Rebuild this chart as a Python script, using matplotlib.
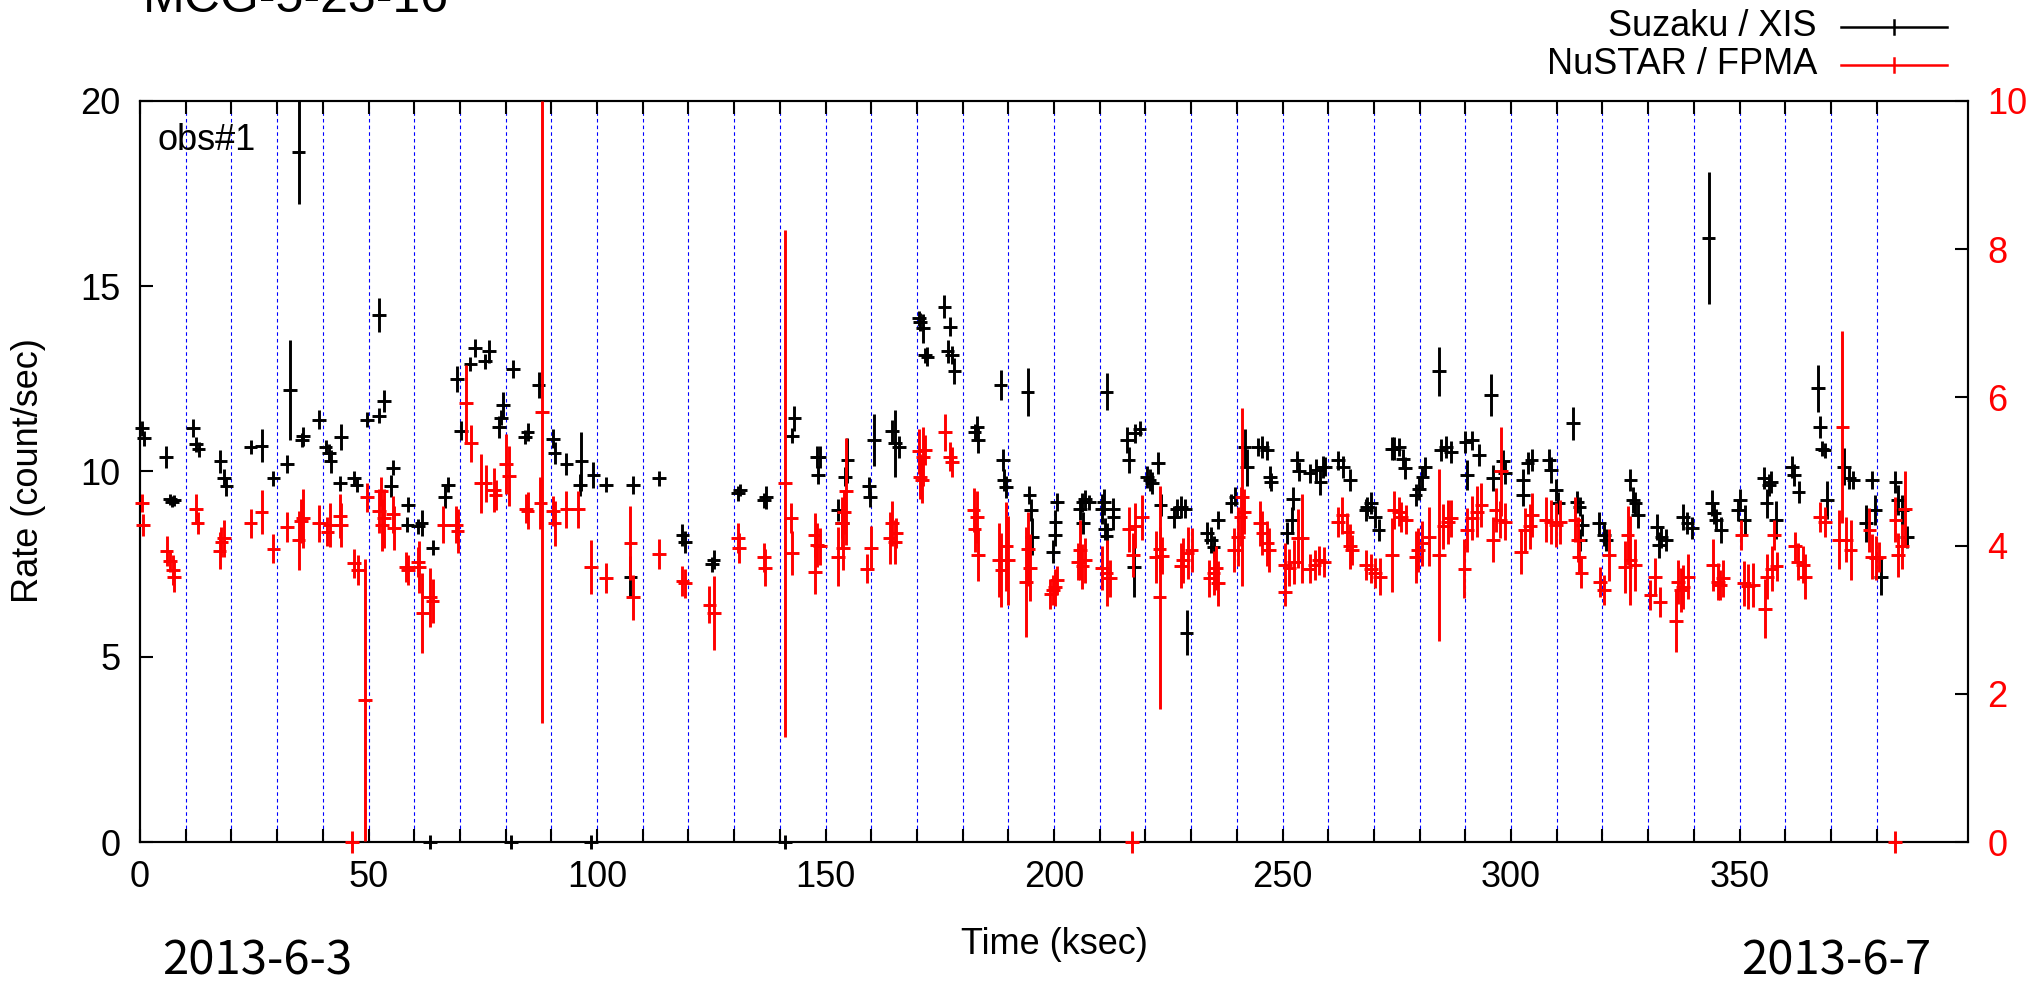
import matplotlib
matplotlib.use("Agg")
import matplotlib.pyplot as plt
from matplotlib.lines import Line2D

plt.rcParams['font.family'] = ['Liberation Sans', 'DejaVu Sans']

# Suzaku / XIS light curve: time (ksec), rate (count/sec), 1-sigma error
xis_t = [0.5, 0.9, 5.7, 6.6, 7.0, 7.4, 11.6, 12.3, 12.8, 17.6, 18.4, 18.9, 24.2, 26.6, 29.2,
         32.1, 32.8, 34.7, 35.4, 35.7, 39.1, 40.6, 41.3, 41.7, 43.7, 44.0, 46.9, 47.4, 49.6,
         52.3, 52.3, 53.4, 54.9, 55.4, 58.5, 58.7, 60.9, 61.6, 63.5, 64.0, 66.7, 67.4, 69.4,
         70.2, 72.3, 73.3, 75.5, 76.3, 78.5, 79.0, 79.4, 81.2, 81.6, 84.3, 84.8, 87.2, 90.4,
         90.7, 93.3, 96.3, 96.6, 98.7, 99.2, 102.0, 107.3, 107.9, 113.6, 118.7, 119.2, 125.1,
         125.5, 130.9, 131.3, 136.6, 136.9, 141.1, 142.6, 143.2, 148.1, 148.7, 148.4, 152.8,
         153.6, 154.3, 154.8, 159.5, 159.7, 160.6, 164.5, 165.2, 166.0, 170.4, 170.7, 171.4,
         171.8, 172.3, 176.0, 177.2, 176.7, 177.7, 178.2, 182.6, 183.1, 183.3, 188.3, 188.8,
         189.0, 189.5, 194.2, 194.6, 195.0, 195.2, 199.7, 200.2, 200.3, 200.6, 205.7, 206.2,
         206.7, 207.7, 206.3, 210.5, 211.0, 211.2, 211.5, 211.5, 212.9, 213.0, 216.0, 216.3,
         217.5, 217.7, 218.7, 220.4, 220.9, 221.4, 222.8, 223.3, 226.3, 226.8, 227.8, 228.7,
         229.0, 233.4, 234.4, 234.9, 235.8, 238.8, 239.7, 241.7, 242.2, 244.7, 245.6, 246.6,
         247.3, 247.5, 251.0, 252.0, 252.3, 253.1, 253.6, 255.9, 257.4, 258.3, 258.9, 259.3,
         262.2, 263.2, 264.7, 268.2, 268.5, 269.3, 270.3, 271.0, 274.0, 274.4, 275.4, 276.4,
         276.8, 279.1, 279.8, 280.6, 281.1, 284.2, 284.7, 285.8, 286.8, 290.0, 290.4, 291.4,
         293.0, 295.6, 296.1, 298.2, 298.7, 302.6, 302.6, 303.6, 304.5, 308.3, 308.8, 309.8,
         310.3, 313.5, 314.5, 315.0, 315.1, 315.6, 319.3, 320.3, 320.8, 326.1, 326.7, 327.2,
         327.7, 331.9, 332.4, 332.9, 333.9, 337.6, 338.6, 339.6, 343.2, 343.9, 344.4, 344.9,
         346.0, 349.6, 350.1, 351.1, 355.3, 355.9, 356.4, 356.9, 357.9, 361.4, 361.9, 362.9,
         367.1, 367.6, 368.1, 368.6, 369.1, 372.8, 373.9, 374.9, 377.7, 378.9, 379.7, 381.0,
         384.1, 384.6, 385.6, 386.6]
xis_rate = [11.17, 10.9, 10.4, 9.25, 9.18, 9.22, 11.17, 10.73, 10.6, 10.27, 9.82, 9.6, 10.66,
            10.7, 9.82, 10.2, 12.2, 18.63, 10.85, 10.95, 11.4, 10.66, 10.5, 10.27, 9.68, 10.93,
            9.82, 9.64, 11.4, 14.22, 11.5, 11.9, 9.6, 10.1, 8.56, 9.1, 8.52, 8.6, 0.0, 7.94,
            9.32, 9.64, 12.5, 11.1, 12.9, 13.33, 12.97, 13.24, 11.2, 11.45, 11.8, 0.0, 12.76,
            10.93, 11.07, 12.33, 10.89, 10.5, 10.2, 9.64, 10.27, 0.0, 9.9, 9.64, 7.16, 9.64,
            9.82, 8.28, 8.1, 7.5, 7.62, 9.41, 9.5, 9.22, 9.3, 0.0, 10.97, 11.43, 10.4, 10.4,
            9.9, 8.96, 8.6, 9.86, 10.3, 9.6, 9.3, 10.85, 11.1, 10.76, 10.66, 14.13, 14.04,
            13.86, 13.14, 13.1, 14.45, 13.91, 13.24, 13.15, 12.7, 11.07, 11.2, 10.84, 12.33,
            10.31, 9.77, 9.59, 12.15, 9.36, 8.96, 8.24, 7.84, 8.29, 8.65, 9.18, 8.99, 9.17,
            9.26, 9.17, 8.62, 8.99, 9.17, 8.45, 8.27, 12.15, 8.99, 8.77, 10.84, 10.3, 7.42,
            11.03, 11.16, 9.86, 9.77, 9.68, 10.22, 9.09, 8.78, 9.0, 9.05, 9.0, 5.65, 8.33,
            8.15, 7.97, 8.69, 9.14, 9.32, 10.66, 10.12, 10.66, 10.66, 10.57, 9.86, 9.72, 8.33,
            8.69, 9.27, 10.3, 10.0, 9.95, 10.04, 9.72, 10.13, 10.13, 10.3, 10.13, 9.77, 8.96,
            9.05, 9.14, 8.78, 8.42, 10.62, 10.62, 10.66, 10.35, 10.1, 9.36, 9.54, 9.86, 10.13,
            12.7, 10.57, 10.66, 10.53, 10.8, 9.9, 10.84, 10.44, 12.06, 9.82, 10.27, 9.95, 9.77,
            9.36, 10.22, 10.3, 10.3, 10.04, 9.5, 9.14, 11.3, 9.18, 9.05, 8.15, 8.56, 8.6, 8.29,
            8.15, 9.77, 9.23, 9.14, 8.83, 8.51, 8.02, 8.24, 8.15, 8.78, 8.6, 8.47, 16.3, 9.14,
            8.87, 8.69, 8.42, 8.96, 9.23, 8.69, 9.82, 9.14, 9.64, 9.72, 8.69, 10.13, 9.9, 9.45,
            12.24, 11.2, 10.62, 10.57, 9.23, 10.13, 9.82, 9.77, 8.6, 9.77, 8.96, 7.16, 9.72,
            9.23, 8.96, 8.24]
xis_err = [0.2, 0.2, 0.3, 0.15, 0.15, 0.15, 0.25, 0.2, 0.2, 0.3, 0.25, 0.25, 0.2, 0.45, 0.2,
           0.25, 1.35, 1.4, 0.2, 0.25, 0.25, 0.2, 0.25, 0.3, 0.2, 0.35, 0.2, 0.2, 0.2, 0.45,
           0.2, 0.3, 0.3, 0.2, 0.2, 0.2, 0.2, 0.35, 0.2, 0.2, 0.3, 0.2, 0.35, 0.25, 0.2, 0.25,
           0.2, 0.3, 0.3, 0.2, 0.35, 0.2, 0.25, 0.2, 0.25, 0.35, 0.25, 0.3, 0.3, 0.3, 0.8, 0.2,
           0.35, 0.2, 0.56, 0.25, 0.2, 0.3, 0.3, 0.2, 0.25, 0.2, 0.15, 0.2, 0.3, 0.2, 0.2, 0.35,
           0.3, 0.3, 0.25, 0.3, 0.4, 0.25, 0.6, 0.25, 0.25, 0.7, 0.3, 0.9, 0.3, 0.2, 0.25, 0.4,
           0.2, 0.25, 0.3, 0.25, 0.3, 0.25, 0.35, 0.2, 0.3, 0.35, 0.4, 0.3, 0.3, 0.3, 0.65,
           0.25, 0.3, 0.5, 0.3, 0.3, 0.3, 0.25, 0.3, 0.25, 0.25, 0.2, 0.3, 0.4, 0.35, 0.3, 0.35,
           0.5, 0.3, 0.35, 0.35, 0.35, 0.8, 0.25, 0.2, 0.3, 0.3, 0.3, 0.3, 0.3, 0.3, 0.25, 0.3,
           0.25, 0.6, 0.3, 0.35, 0.3, 0.25, 0.25, 0.25, 0.5, 0.5, 0.25, 0.3, 0.25, 0.3, 0.25,
           0.3, 0.35, 0.3, 0.25, 0.25, 0.25, 0.3, 0.35, 0.3, 0.25, 0.25, 0.3, 0.3, 0.3, 0.25,
           0.3, 0.3, 0.3, 0.3, 0.3, 0.25, 0.25, 0.3, 0.3, 0.3, 0.3, 0.25, 0.65, 0.3, 0.3, 0.3,
           0.3, 0.4, 0.25, 0.3, 0.57, 0.35, 0.3, 0.3, 0.3, 0.3, 0.3, 0.3, 0.3, 0.35, 0.3, 0.3,
           0.45, 0.3, 0.25, 0.3, 0.3, 0.3, 0.3, 0.3, 0.3, 0.35, 0.3, 0.35, 0.35, 0.35, 0.3, 0.3,
           0.35, 0.3, 0.3, 1.78, 0.35, 0.3, 0.3, 0.35, 0.3, 0.3, 0.4, 0.3, 0.4, 0.3, 0.3, 0.5,
           0.3, 0.3, 0.3, 0.63, 0.3, 0.2, 0.2, 0.5, 0.5, 0.3, 0.25, 0.5, 0.25, 0.4, 0.5, 0.3,
           0.4, 0.4, 0.3]

# NuSTAR / FPMA light curve (right axis)
fpma_t = [0.5, 0.7, 5.8, 6.5, 7.2, 7.5, 12.3, 12.6, 17.4, 17.8, 18.4, 24.2, 26.6, 29.2, 32.1,
          34.7, 35.2, 35.7, 39.1, 41.0, 41.5, 43.7, 44.0, 46.4, 46.9, 47.7, 49.2, 49.7, 52.3,
          52.8, 52.9, 53.4, 55.4, 55.6, 58.2, 58.7, 60.9, 61.1, 61.8, 63.5, 64.0, 66.4, 69.2,
          69.5, 71.4, 72.4, 74.6, 75.6, 77.5, 77.8, 80.1, 80.8, 84.5, 84.8, 87.6, 88.0, 90.4,
          90.7, 93.3, 95.9, 98.7, 102.0, 107.3, 107.8, 113.6, 118.7, 119.2, 124.6, 125.6,
          130.9, 131.1, 136.6, 136.8, 141.2, 142.4, 142.6, 147.6, 147.7, 148.2, 148.8, 152.8,
          153.6, 153.8, 154.4, 154.0, 159.1, 160.0, 164.0, 164.5, 165.2, 165.5, 170.4, 170.7,
          171.1, 171.4, 171.8, 176.2, 177.2, 177.7, 182.4, 183.1, 182.6, 183.3, 188.0, 188.5,
          189.5, 190.0, 193.8, 194.3, 194.8, 199.2, 199.7, 200.2, 200.7, 205.2, 205.7, 206.2,
          206.7, 210.5, 211.5, 212.3, 216.3, 217.0, 217.2, 217.7, 219.2, 222.2, 223.1, 223.1,
          223.6, 227.8, 228.2, 229.2, 230.1, 234.0, 234.9, 235.4, 235.8, 239.3, 240.3, 240.8,
          241.2, 241.5, 245.0, 245.6, 246.6, 247.0, 250.5, 250.5, 251.5, 252.5, 253.4, 254.3,
          255.9, 257.0, 258.0, 259.0, 262.1, 263.1, 264.2, 264.7, 265.2, 268.3, 269.3, 270.3,
          271.3, 273.9, 274.4, 275.4, 276.0, 277.0, 279.1, 279.6, 280.6, 282.1, 284.2, 285.2,
          286.2, 286.8, 289.8, 290.4, 291.4, 292.5, 293.5, 296.1, 296.6, 297.6, 297.8, 298.7,
          302.1, 303.1, 304.1, 304.6, 307.7, 308.8, 309.8, 310.8, 313.9, 314.7, 314.9, 315.4,
          319.4, 320.4, 321.4, 325.0, 325.5, 326.1, 327.1, 330.5, 331.5, 332.6, 336.1, 336.6,
          337.1, 337.6, 338.7, 344.2, 345.2, 345.7, 346.3, 350.4, 350.9, 351.9, 352.9, 355.5,
          356.0, 357.0, 357.6, 358.1, 362.2, 362.7, 363.8, 364.3, 367.6, 368.7, 371.8, 372.5,
          373.3, 374.3, 378.4, 378.9, 379.9, 380.5, 384.0, 384.1, 384.6, 385.6, 386.2]
fpma_rate = [4.57, 4.28, 3.93, 3.79, 3.67, 3.58, 4.5, 4.3, 3.93, 4.05, 4.1, 4.3, 4.45, 3.96,
             4.25, 4.07, 4.33, 4.37, 4.3, 4.19, 4.28, 4.4, 4.28, 0.0, 3.76, 3.67, 1.92, 4.65,
             4.47, 4.73, 4.28, 4.37, 4.42, 4.24, 3.71, 3.67, 3.78, 3.71, 3.09, 3.3, 3.25, 4.28,
             4.28, 4.2, 5.92, 5.38, 4.84, 4.84, 4.75, 4.68, 5.1, 4.94, 4.5, 4.47, 4.57, 5.8,
             4.47, 4.3, 4.49, 4.49, 3.71, 3.56, 4.03, 3.3, 3.89, 3.52, 3.49, 3.2, 3.09, 4.1,
             3.97, 3.84, 3.7, 4.84, 4.37, 3.9, 4.14, 3.65, 4.01, 3.99, 3.85, 4.3, 3.97, 4.73,
             4.45, 3.69, 3.97, 4.1, 4.3, 4.05, 4.17, 5.27, 4.93, 4.88, 5.2, 5.29, 5.53, 5.2,
             5.13, 4.48, 4.39, 4.22, 3.87, 3.8, 3.67, 3.99, 3.8, 3.51, 3.96, 3.7, 3.35, 3.4,
             3.44, 3.53, 3.78, 3.94, 3.72, 3.8, 3.7, 3.63, 3.56, 4.22, 0.0, 3.87, 4.27, 4.38,
             3.85, 3.95, 3.3, 3.86, 3.73, 3.8, 3.9, 3.94, 3.56, 3.63, 3.7, 3.49, 3.94, 4.12,
             4.39, 4.66, 4.46, 4.3, 4.17, 4.03, 3.94, 3.74, 3.38, 3.7, 3.78, 4.1, 4.1, 3.69,
             3.74, 3.8, 3.78, 4.32, 4.41, 4.19, 3.99, 3.94, 3.74, 3.69, 3.63, 3.58, 3.87, 4.48,
             4.46, 4.39, 4.35, 3.85, 3.94, 4.03, 4.12, 3.87, 4.26, 4.32, 4.37, 3.69, 4.21, 4.37,
             4.46, 4.55, 4.08, 4.48, 4.35, 5.0, 4.32, 3.92, 4.21, 4.26, 4.41, 4.35, 4.32, 4.28,
             4.32, 4.35, 4.08, 3.85, 3.63, 3.51, 3.4, 3.87, 3.71, 4.14, 3.8, 3.74, 3.33, 3.58,
             3.24, 2.98, 3.51, 3.4, 3.44, 3.58, 3.74, 3.51, 3.47, 3.56, 4.14, 3.49, 3.45, 3.47,
             3.15, 3.58, 3.69, 4.14, 3.72, 3.99, 3.78, 3.74, 3.58, 4.39, 4.32, 4.08, 5.6, 4.08,
             3.94, 4.21, 3.85, 3.83, 3.85, 0.0, 4.35, 3.87, 3.99, 4.5]
fpma_err = [0.12, 0.15, 0.2, 0.15, 0.2, 0.2, 0.2, 0.15, 0.25, 0.2, 0.25, 0.2, 0.3, 0.2, 0.2,
            0.4, 0.3, 0.4, 0.25, 0.2, 0.3, 0.3, 0.3, 0.15, 0.2, 0.2, 1.9, 0.2, 0.3, 0.2, 0.35,
            0.4, 0.25, 0.3, 0.2, 0.2, 0.2, 0.35, 0.54, 0.4, 0.3, 0.25, 0.25, 0.3, 0.52, 0.25,
            0.4, 0.25, 0.3, 0.2, 0.4, 0.4, 0.2, 0.25, 0.35, 4.2, 0.2, 0.3, 0.25, 0.25, 0.37,
            0.2, 0.5, 0.3, 0.2, 0.2, 0.2, 0.25, 0.5, 0.2, 0.2, 0.2, 0.25, 3.42, 0.2, 0.3, 0.3,
            0.3, 0.3, 0.25, 0.4, 0.35, 0.3, 0.72, 0.3, 0.2, 0.3, 0.35, 0.3, 0.3, 0.2, 0.3, 0.3,
            0.3, 0.4, 0.2, 0.25, 0.2, 0.2, 0.3, 0.35, 0.3, 0.35, 0.5, 0.5, 0.6, 0.6, 0.74, 0.5,
            0.45, 0.2, 0.2, 0.25, 0.2, 0.25, 0.4, 0.3, 0.3, 0.3, 0.45, 0.25, 0.3, 0.15, 0.3,
            0.3, 0.3, 0.35, 0.3, 1.5, 0.25, 0.3, 0.3, 0.35, 0.3, 0.25, 0.3, 0.3, 0.3, 0.3, 0.4,
            0.4, 1.2, 0.3, 0.3, 0.3, 0.3, 0.3, 0.3, 0.2, 0.25, 0.3, 0.4, 0.6, 0.2, 0.2, 0.2,
            0.2, 0.2, 0.25, 0.25, 0.3, 0.2, 0.2, 0.2, 0.2, 0.25, 0.5, 0.25, 0.2, 0.2, 0.2, 0.35,
            0.3, 0.3, 0.4, 1.16, 0.3, 0.3, 0.25, 0.4, 0.3, 0.3, 0.35, 0.3, 0.3, 0.3, 0.25, 0.6,
            0.25, 0.3, 0.3, 0.3, 0.3, 0.3, 0.3, 0.3, 0.3, 0.3, 0.3, 0.2, 0.2, 0.2, 0.2, 0.35,
            0.35, 0.4, 0.6, 0.35, 0.2, 0.25, 0.2, 0.42, 0.3, 0.3, 0.3, 0.3, 0.35, 0.25, 0.2,
            0.25, 0.2, 0.3, 0.3, 0.3, 0.4, 0.3, 0.3, 0.2, 0.2, 0.2, 0.25, 0.25, 0.3, 0.2, 0.2,
            0.4, 1.3, 0.3, 0.4, 0.3, 0.3, 0.3, 0.2, 0.15, 0.3, 0.3, 0.3, 0.5]

bin_half = 1.5                          # half bin width (ksec)
orbit_marks = list(range(10, 390, 10))  # dashed markers (ksec)
x_major = list(range(0, 351, 50))
left_ticks = [0, 5, 10, 15, 20]
right_ticks = [0, 2, 4, 6, 8, 10]

fig = plt.figure(figsize=(20.38, 9.84), dpi=100)
ax = fig.add_axes([0.0687, 0.1443, 0.897, 0.7531])
ax2 = ax.twinx()

for t in orbit_marks:
    ax.axvline(t, color='blue', lw=0.8, dashes=(3.2, 2.8), zorder=0.5)


def draw(axis, t, y, e, color):
    cont = axis.errorbar(t, y, yerr=e, xerr=bin_half, fmt='none', ecolor=color,
                         elinewidth=2.1, capsize=0, zorder=3)
    for coll in cont.lines[2]:
        coll.set_clip_on(False)


draw(ax, xis_t, xis_rate, xis_err, 'black')
draw(ax2, fpma_t, fpma_rate, fpma_err, 'red')

ax.set_xlim(0, 400)
ax.set_ylim(0, 20)
ax2.set_ylim(0, 10)

ax.set_xticks(x_major)
ax.set_xticks([t for t in orbit_marks if t % 50], minor=True)
ax.set_yticks(left_ticks)
ax2.set_yticks(right_ticks)

ax.tick_params(axis='x', which='both', direction='in', length=9.5, width=1.5,
               top=True, labelsize=26, pad=13)
ax.tick_params(axis='y', which='both', direction='in', length=9.5, width=1.5,
               right=False, labelsize=26, pad=14)
ax2.tick_params(axis='y', direction='in', length=9.5, width=1.5, labelsize=26,
                labelcolor='red', pad=14)
for a in (ax, ax2):
    for s in a.spines.values():
        s.set_linewidth(1.5)

# labels
fig.text(1054 / 2038, 1 - 944 / 984, 'Time (ksec)', ha='center', va='center', fontsize=26)
fig.text(29 / 2038, 1 - 471 / 984, 'Rate (count/sec)', ha='center', va='center',
         rotation=90, fontsize=26)
fig.text(143 / 2038, 1 - 12 / 984, 'MCG-5-23-16', ha='left', va='baseline', fontsize=36)
ax.text(0.0098, 0.946, 'obs#1', transform=ax.transAxes, ha='left', va='center', fontsize=26)

date_font = ['Noto Sans CJK JP', 'DejaVu Sans']
fig.text(162 / 2038, 1 - 961 / 984, '2013-6-3', ha='left', va='center', fontsize=34,
         family=date_font)
fig.text(1931 / 2038, 1 - 961 / 984, '2013-6-7', ha='right', va='center', fontsize=34,
         family=date_font)

# legend (gnuplot style, outside the plot, top right)
for label, color, yc in [('Suzaku / XIS', 'black', 27), ('NuSTAR / FPMA', 'red', 65)]:
    yf = 1 - yc / 984
    fig.text(1817 / 2038, yf, label, ha='right', va='center', fontsize=26)
    fig.add_artist(Line2D([1841 / 2038, 1947 / 2038], [yf, yf], transform=fig.transFigure,
                          color=color, lw=1.8))
    fig.add_artist(Line2D([1894 / 2038, 1894 / 2038], [yf - 7 / 984, yf + 7 / 984],
                          transform=fig.transFigure, color=color, lw=1.8))

fig.savefig('out.png', dpi=100)
